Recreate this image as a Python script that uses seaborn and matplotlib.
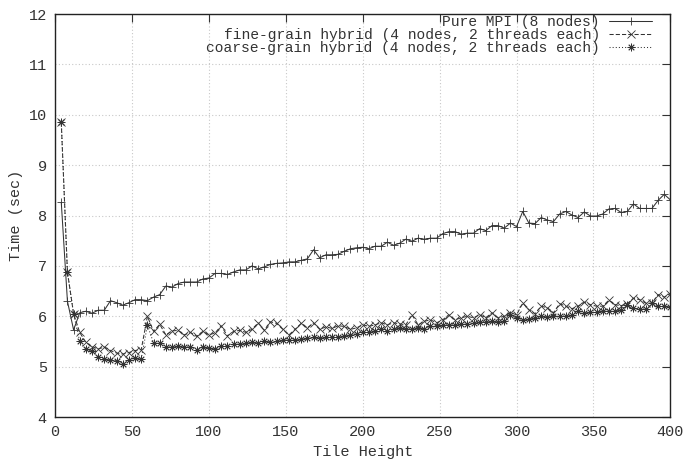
import numpy as np
import pandas as pd
import matplotlib
matplotlib.use("Agg")
import matplotlib.pyplot as plt
import seaborn as sns

# Tile heights (4, 8, ..., 400)
tile_height = list(range(4, 401, 4))

# Pure MPI (8 nodes)
pure_mpi = [8.26, 6.30, 5.73, 6.07, 6.10, 6.06, 6.12, 6.12, 6.31, 6.27,
            6.22, 6.27, 6.33, 6.33, 6.31, 6.38, 6.43, 6.60, 6.58, 6.65,
            6.68, 6.68, 6.68, 6.74, 6.76, 6.85, 6.85, 6.83, 6.88, 6.92,
            6.92, 7.00, 6.94, 6.98, 7.03, 7.05, 7.06, 7.08, 7.08, 7.11,
            7.14, 7.32, 7.16, 7.22, 7.22, 7.23, 7.29, 7.34, 7.36, 7.37,
            7.34, 7.39, 7.39, 7.47, 7.41, 7.45, 7.53, 7.49, 7.55, 7.53,
            7.55, 7.55, 7.64, 7.68, 7.68, 7.63, 7.65, 7.65, 7.74, 7.70,
            7.80, 7.80, 7.75, 7.85, 7.78, 8.08, 7.85, 7.84, 7.96, 7.91,
            7.88, 8.03, 8.08, 8.01, 7.96, 8.07, 7.99, 7.99, 8.03, 8.13,
            8.14, 8.06, 8.08, 8.23, 8.14, 8.14, 8.14, 8.30, 8.42, 8.31]

# fine-grain hybrid (4 nodes, 2 threads each)
fine_grain = [9.85, 6.88, 6.05, 5.68, 5.48, 5.40, 5.35, 5.39, 5.32, 5.27,
              5.25, 5.28, 5.32, 5.34, 6.00, 5.70, 5.84, 5.63, 5.71, 5.72,
              5.63, 5.68, 5.60, 5.70, 5.63, 5.67, 5.81, 5.61, 5.70, 5.72,
              5.68, 5.74, 5.87, 5.72, 5.89, 5.86, 5.74, 5.63, 5.74, 5.86,
              5.77, 5.87, 5.74, 5.79, 5.76, 5.81, 5.80, 5.74, 5.77, 5.83,
              5.80, 5.83, 5.87, 5.83, 5.87, 5.85, 5.83, 6.03, 5.83, 5.90,
              5.93, 5.87, 5.93, 6.03, 5.93, 5.97, 6.00, 5.97, 6.03, 5.97,
              6.07, 5.97, 6.00, 6.07, 6.03, 6.26, 6.13, 6.05, 6.20, 6.17,
              6.07, 6.25, 6.20, 6.15, 6.20, 6.28, 6.23, 6.20, 6.20, 6.32,
              6.23, 6.21, 6.25, 6.36, 6.33, 6.26, 6.26, 6.43, 6.38, 6.45]

# coarse-grain hybrid (4 nodes, 2 threads each)
coarse_grain = [9.85, 6.88, 6.05, 5.50, 5.35, 5.32, 5.19, 5.15, 5.14, 5.12,
                5.06, 5.14, 5.17, 5.16, 5.82, 5.47, 5.46, 5.40, 5.40, 5.41,
                5.40, 5.40, 5.33, 5.40, 5.37, 5.35, 5.41, 5.41, 5.45, 5.45,
                5.46, 5.48, 5.46, 5.50, 5.48, 5.50, 5.52, 5.53, 5.53, 5.54,
                5.56, 5.58, 5.56, 5.58, 5.59, 5.59, 5.61, 5.63, 5.65, 5.68,
                5.68, 5.70, 5.74, 5.70, 5.74, 5.77, 5.74, 5.74, 5.77, 5.75,
                5.80, 5.80, 5.83, 5.83, 5.83, 5.85, 5.85, 5.87, 5.88, 5.88,
                5.90, 5.88, 5.90, 6.03, 5.97, 5.93, 5.95, 5.97, 6.00, 5.98,
                6.00, 6.00, 6.01, 6.03, 6.10, 6.07, 6.08, 6.08, 6.10, 6.10,
                6.10, 6.13, 6.23, 6.17, 6.15, 6.15, 6.26, 6.20, 6.20, 6.19]

labels = ["Pure MPI (8 nodes)",
          "fine-grain hybrid (4 nodes, 2 threads each)",
          "coarse-grain hybrid (4 nodes, 2 threads each)"]

# tabla larga para seaborn
df = pd.concat([
    pd.DataFrame({"x": tile_height, "t": pure_mpi, "serie": labels[0]}),
    pd.DataFrame({"x": tile_height, "t": fine_grain, "serie": labels[1]}),
    pd.DataFrame({"x": tile_height, "t": coarse_grain, "serie": labels[2]}),
])

sns.set_style("white")
plt.rcParams['font.family'] = ['Liberation Mono', 'DejaVu Sans Mono']

fig = plt.figure(figsize=(6.89, 4.67), dpi=100)
ax = fig.add_axes([0.080, 0.107, 0.893, 0.863])

col = "#333333"
sns.lineplot(data=df, x="x", y="t", style="serie", ax=ax, color=col,
             markers={labels[0]: "+", labels[1]: "x", labels[2]: (8, 2, 0)},
             dashes={labels[0]: "", labels[1]: (4, 2), labels[2]: (1, 2)},
             linewidth=0.75, markersize=5.5, markeredgewidth=0.6,
             markeredgecolor=col)

ax.set_xlim(0, 400)
ax.set_ylim(4, 12)
ax.set_xticks(range(0, 401, 50))
ax.set_yticks(range(4, 13))
ax.grid(True, color="#c8c8c8", linestyle=(0, (1, 2)), linewidth=0.8)
ax.tick_params(direction="in", length=6, top=True, right=True, labelsize=11,
               colors="#333333", pad=6)
for s in ax.spines.values():
    s.set_color("#222222")
    s.set_linewidth(1.0)

ax.set_xlabel("Tile Height", fontsize=11, color="#333333")
ax.set_ylabel("Time (sec)", fontsize=11, color="#333333")

handles, labs = ax.get_legend_handles_labels()
for h in handles:
    h.set_markeredgecolor(col)
leg = ax.legend(handles, labs, loc="upper right", bbox_to_anchor=(0.985, 1.02),
                frameon=False, markerfirst=False, fontsize=10.5, handlelength=3.0,
                labelspacing=-0.05, handletextpad=0.6, borderaxespad=0.2)
for t in leg.get_texts():
    t.set_ha("right")
    t.set_color("#333333")
leg._legend_box.align = "right"

fig.savefig("out.png", dpi=100)
